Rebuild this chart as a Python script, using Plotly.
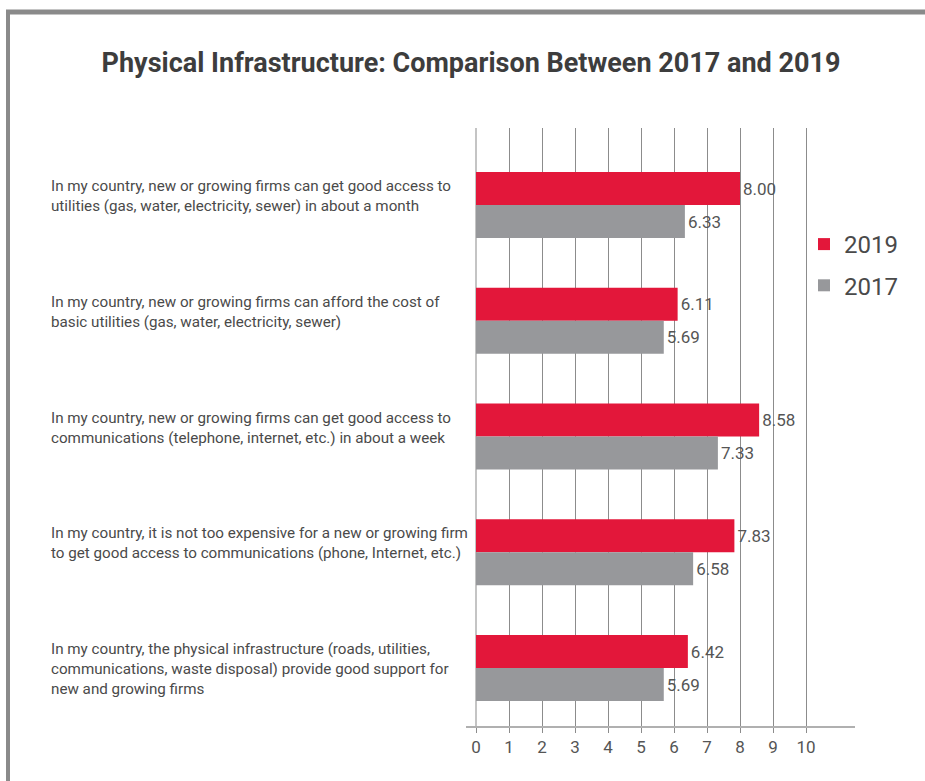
import plotly.graph_objects as go

categories = [
    "In my country, new or growing firms can get good access to<br>utilities (gas, water, electricity, sewer) in about a month",
    "In my country, new or growing firms can afford the cost of<br>basic utilities (gas, water, electricity, sewer)",
    "In my country, new or growing firms can get good access to<br>communications (telephone, internet, etc.) in about a week",
    "In my country, it is not too expensive for a new or growing firm<br>to get good access to communications (phone, Internet, etc.)",
    "In my country, the physical infrastructure (roads, utilities,<br>communications, waste disposal) provide good support for<br>new and growing firms",
]
values_2019 = [8.00, 6.11, 8.58, 7.83, 6.42]
values_2017 = [6.33, 5.69, 7.33, 6.58, 5.69]
tick_values = [0, 1, 2, 3, 4, 5, 6, 7, 8, 9, 10]
tick_labels = ["0", "1", "2", "3", "4", "5", "6", "7", "8", "9", "10"]

W, H = 925, 781
L, R, T, B = 466, 70, 128, 55
PW, PH = W - L - R, H - T - B

def px_x(p):
    return (p - L) / PW

def px_y(p):
    return 1 - (p - T) / PH

RED = "#E3173A"
GRAY = "#97989B"
TXT = "#4a4a4a"
FONT = "Roboto"

cat_idx = list(range(len(categories)))

fig = go.Figure()
fig.add_trace(go.Bar(
    y=cat_idx, x=values_2019, orientation="h", name="2019", legendgroup="g2019",
    marker=dict(color=RED, line=dict(width=0)),
    text=[f"{v:.2f}" for v in values_2019], textposition="outside",
    textfont=dict(family=FONT, size=17, color="#555555"),
    cliponaxis=False, hoverinfo="x",
))
fig.add_trace(go.Bar(
    y=cat_idx, x=values_2017, orientation="h", name="2017", legendgroup="g2017",
    marker=dict(color=GRAY, line=dict(width=0)),
    text=[f"{v:.2f}" for v in values_2017], textposition="outside",
    textfont=dict(family=FONT, size=17, color="#555555"),
    cliponaxis=False, hoverinfo="x",
))

annotations = []
for i, c in enumerate(categories):
    annotations.append(dict(
        x=px_x(49), xref="paper", xanchor="left",
        y=i, yref="y", yanchor="top", yshift=30,
        text=c, align="left", showarrow=False,
        font=dict(family=FONT, size=15.2, color=TXT),
    ))

shapes = [
    dict(type="line", xref="paper", yref="paper",
         x0=px_x(8), x1=px_x(8), y0=px_y(10), y1=px_y(800),
         line=dict(color="#8a8a8a", width=4)),
    dict(type="line", xref="paper", yref="paper",
         x0=px_x(6), x1=px_x(940), y0=px_y(12), y1=px_y(12),
         line=dict(color="#8a8a8a", width=5)),
]

fig.update_layout(
    width=W, height=H,
    margin=dict(l=L, r=R, t=T, b=B, autoexpand=False),
    paper_bgcolor="white", plot_bgcolor="white",
    barmode="group", bargap=0.43, bargroupgap=0,
    title=dict(
        text="<b>Physical Infrastructure: Comparison Between 2017 and 2019</b>",
        x=471 / W, xref="container", xanchor="center",
        y=1 - 63 / H, yref="container", yanchor="middle",
        font=dict(family=FONT, size=27, color="#3d3d3d"),
    ),
    xaxis=dict(
        range=[-10 / 33, (855 - 476) / 33],
        tickmode="array", tickvals=tick_values, ticktext=tick_labels,
        showgrid=True, gridcolor="#8c8c8c", gridwidth=1,
        zeroline=True, zerolinecolor="#c4c4c4", zerolinewidth=2,
        showline=True, linecolor="#b0b0b0", linewidth=2,
        ticks="outside", ticklen=5, tickcolor="#8c8c8c",
        tickfont=dict(family=FONT, size=17, color="#555555"),
        fixedrange=True,
    ),
    yaxis=dict(
        range=[4.5, -(205 - 128) / 115.75],
        showticklabels=False, showgrid=False, zeroline=False,
        showline=False, ticks="", fixedrange=True,
    ),
    legend=dict(
        x=px_x(804), y=px_y(222), xanchor="left", yanchor="top",
        xref="paper", yref="paper",
        font=dict(family=FONT, size=24, color=TXT),
        itemwidth=30, tracegroupgap=7,
        bgcolor="rgba(0,0,0,0)",
    ),
    annotations=annotations,
    shapes=shapes,
    showlegend=True,
)

fig.write_html(
    "out.html",
    config={"displayModeBar": False},
    post_script="document.body.style.margin='0';document.body.style.overflow='hidden';",
)
